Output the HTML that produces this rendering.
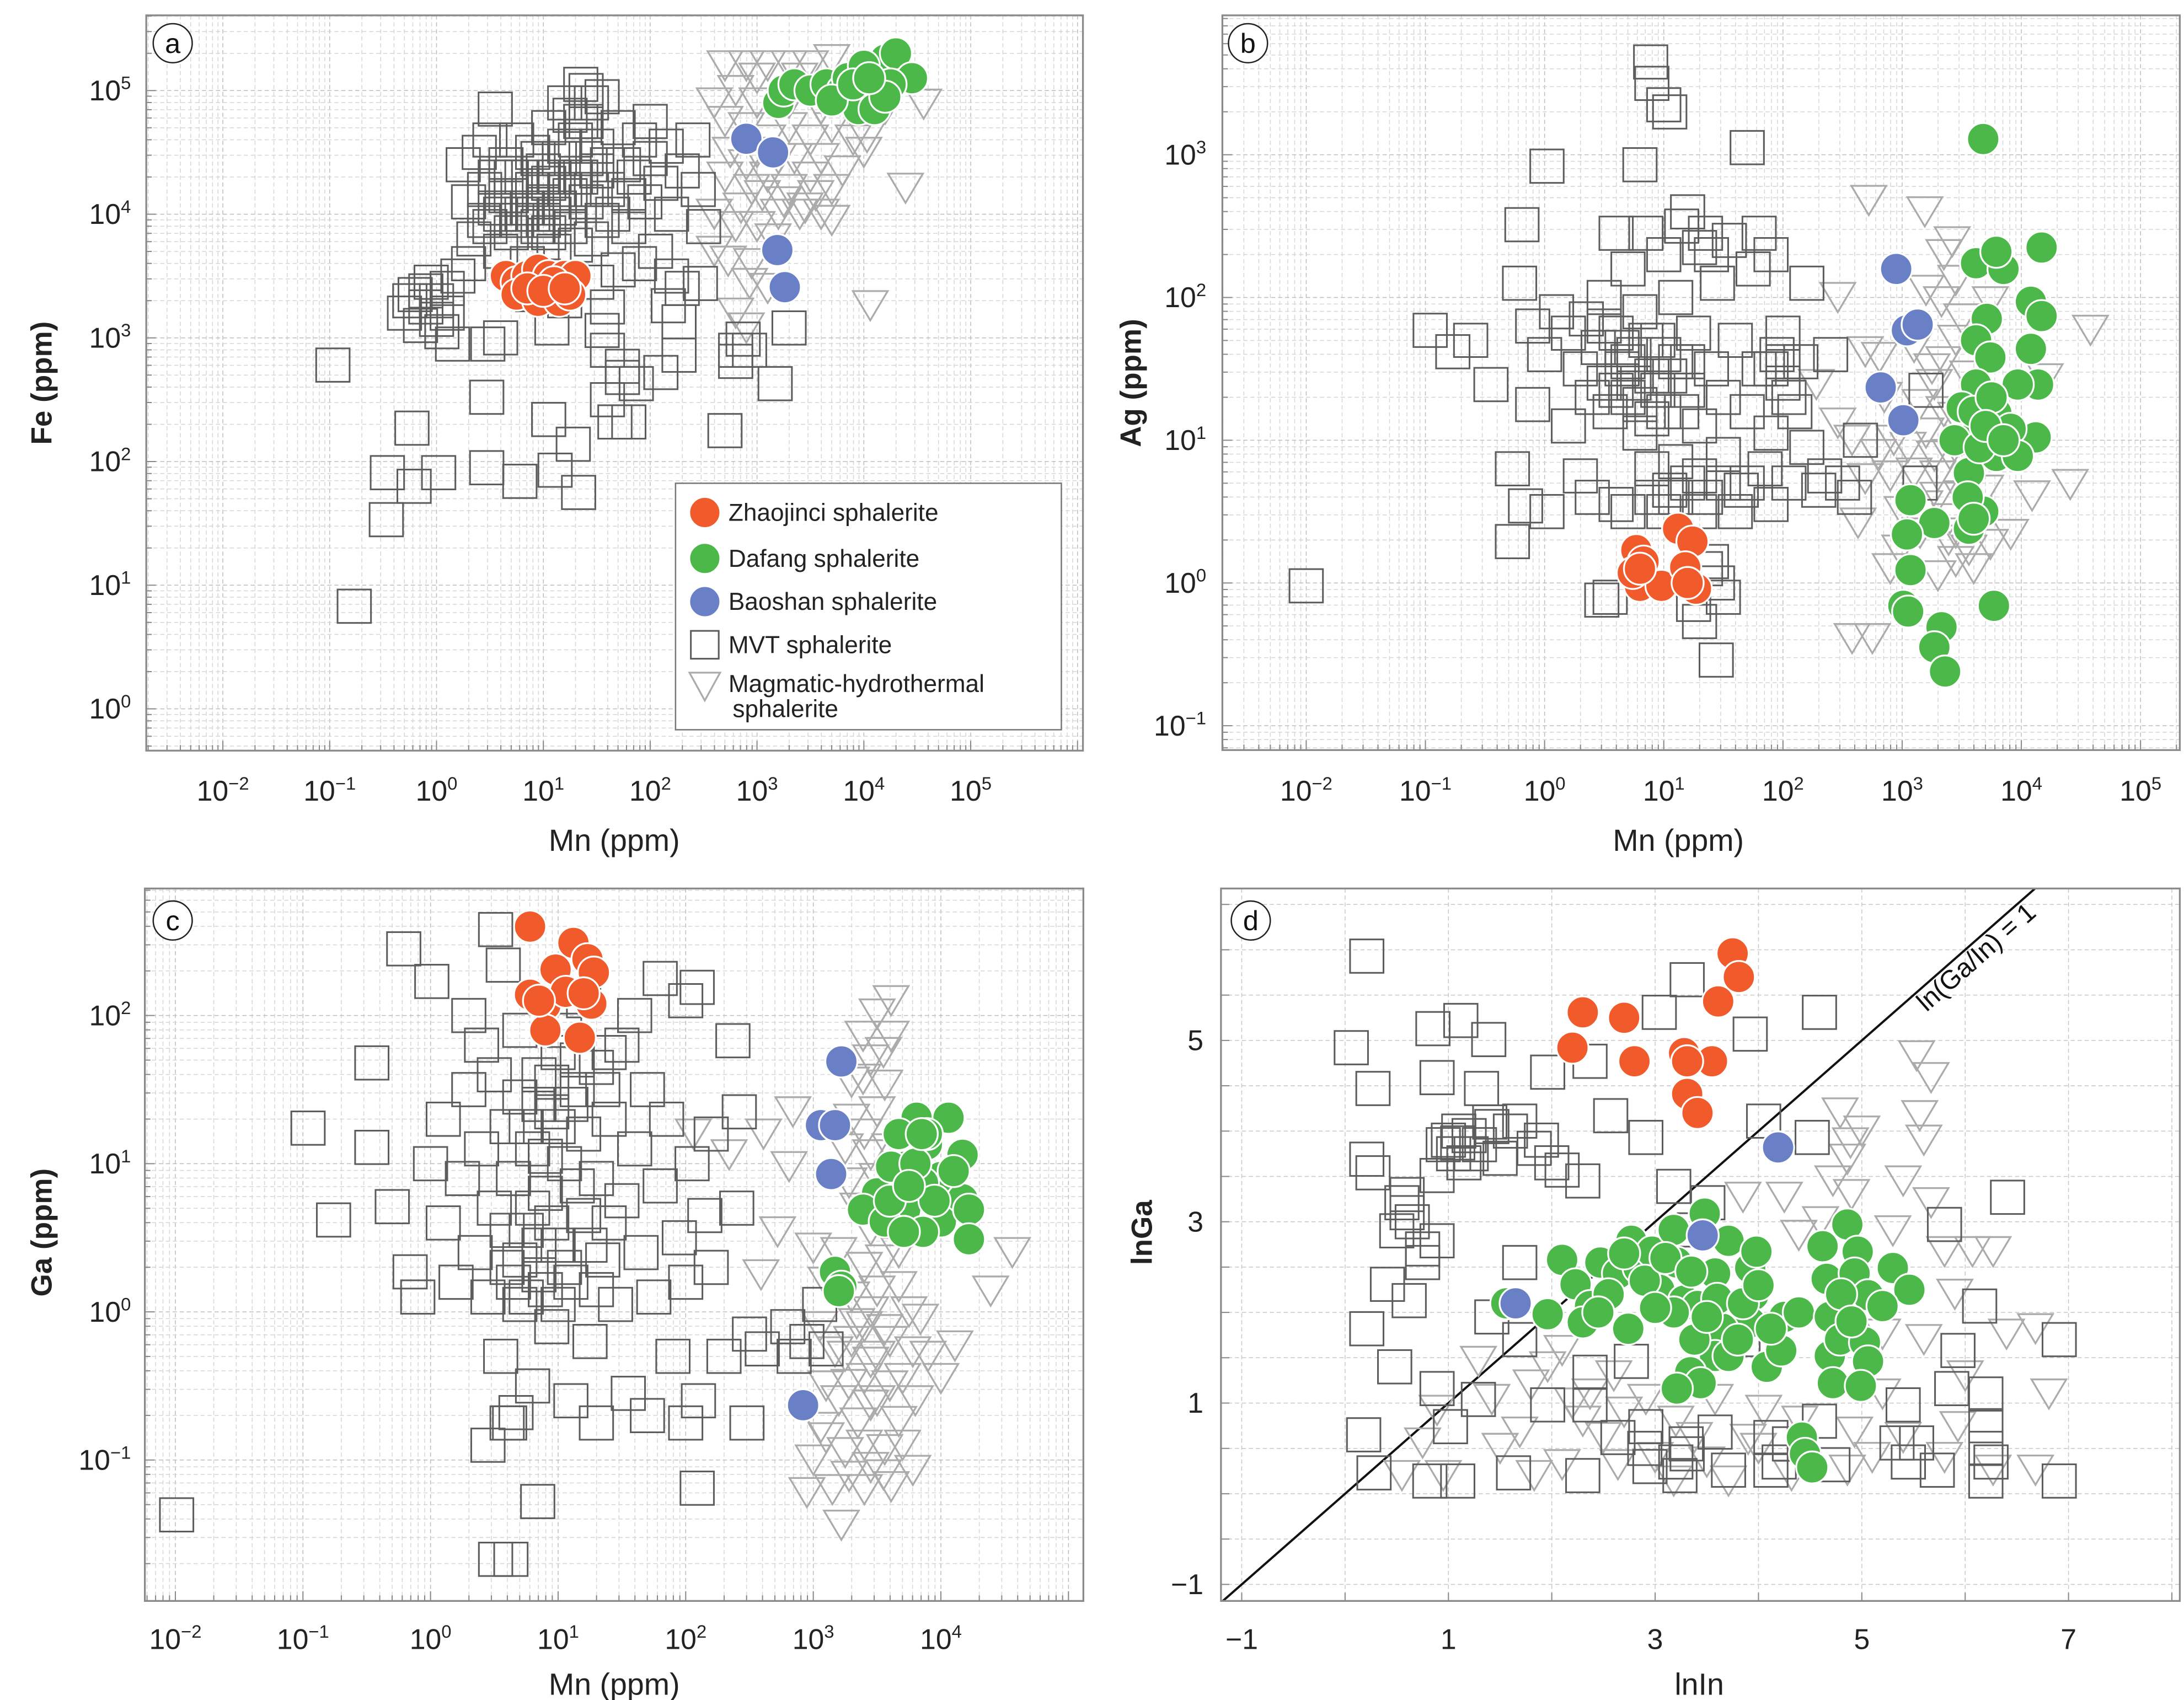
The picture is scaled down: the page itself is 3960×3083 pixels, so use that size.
<!DOCTYPE html>
<html><head><meta charset="utf-8">
<style>
html,body{margin:0;padding:0;background:#fff;}
svg{display:block;font-family:"Liberation Sans",sans-serif;}
</style></head>
<body>
<svg id="fig" xmlns="http://www.w3.org/2000/svg" width="3960" height="3083" viewBox="0 0 1568 1220.7">
<rect x="0" y="0" width="1568" height="1220.7" fill="#fff"/>
</svg>
<script>
// ---- data (log10 values for panels a-c; natural-log values for panel d) ----
const aMag=[[2.7,5.2],[2.9,5.2],[3.1,5.2],[3.3,5.2],[3.5,5.2],[3.7,5.25],[2.8,5.0],[3.0,4.9],[2.7,4.75],[2.9,4.7],[3.1,4.6],[3.3,4.7],[3.5,4.6],[3.7,4.7],[3.9,4.6],[2.7,4.3],[2.9,4.4],[3.1,4.3],[3.3,4.2],[3.5,4.3],[3.7,4.2],[3.45,4.05],[3.2,4.0],[2.85,4.05],[2.6,4.0],[3.6,4.0],[4.39,4.21],[4.56,4.89],[4.03,4.62],[4.06,3.26],[2.6,3.7],[2.73,3.62],[2.93,3.44],[2.9,3.08],[2.8,3.2],[3.0,3.9],[3.15,3.8],[2.95,4.2],[3.6,4.45],[3.35,4.45],[3.8,4.35],[4.0,4.5],[4.2,4.85],[2.6,4.9],[2.75,4.5],[3.0,4.5],[3.2,4.45],[3.4,4.0],[3.55,4.15],[3.25,4.1],[3.05,4.15],[2.8,3.9],[3.3,4.9],[3.6,4.85],[3.0,5.1],[3.4,5.1],[2.95,3.6],[3.1,3.4],[3.7,3.95]];
const aMvt=[[-0.97,2.78],[-0.77,0.83],[-0.23,2.27],[-0.46,1.91],[-0.21,1.8],[0.02,1.91],[-0.47,1.53],[0.47,2.52],[0.47,1.95],[0.78,1.84],[1.05,2.34],[1.11,1.93],[1.28,2.14],[1.33,1.75],[1.6,2.5],[1.74,2.68],[1.67,2.32],[1.8,2.32],[1.87,2.63],[2.27,2.86],[2.27,3.13],[2.47,3.44],[2.17,3.26],[2.7,2.25],[2.8,2.81],[2.8,2.9],[2.93,2.9],[3.17,2.63],[3.3,3.08],[2.87,2.99],[0.48,2.95],[0.15,2.95],[0.6,3.0],[1.08,3.08],[1.55,3.06],[1.6,2.9],[1.74,2.77],[2.1,2.72],
[-0.3,3.2],[-0.2,3.35],[-0.1,3.25],[0,3.3],[0.1,3.2],[-0.15,3.1],[0.05,3.05],[-0.05,3.45],[0.2,3.5],[0.1,3.4],[-0.25,3.3],[0.0,3.15],[-0.1,3.38],
[0.25,4.4],[0.3,4.1],[0.35,3.8],[0.4,4.5],[0.45,4.2],[0.5,3.9],[0.5,4.6],[0.55,4.3],[0.6,4.0],[0.6,3.7],[0.65,4.4],[0.7,4.15],[0.7,3.85],[0.75,4.6],[0.8,4.3],[0.8,4.0],[0.85,3.6],[0.9,4.5],[0.9,4.2],[0.95,3.9],[1.0,4.35],[1.0,4.1],[1.05,4.7],[1.1,4.0],[1.1,3.7],[1.15,4.45],[1.2,4.2],[1.2,4.9],[1.25,3.9],[1.3,4.6],[1.3,4.3],[1.35,5.05],[1.4,4.1],[1.4,4.75],[1.45,3.8],[1.5,4.35],[1.5,4.55],[1.55,4.95],[1.6,4.2],[1.65,4.0],[1.7,4.7],[1.75,4.4],[1.8,3.9],[1.85,4.3],[1.9,4.6],[1.95,4.1],[2.0,4.45],[2.05,3.7],[2.1,4.25],[2.15,4.55],[2.2,4.0],[2.3,4.35],[2.4,4.6],[2.45,4.2],[2.5,3.9],[0.55,4.85],[2.0,4.75],[1.7,3.55],[1.0,3.5],[2.2,3.5],[0.3,3.6],[1.2,3.3],[1.5,3.45],[0.9,3.35],[1.6,3.25],[1.9,3.6],[2.3,3.4],
[0.65,4.15],[0.85,4.05],[1.05,4.25],[1.15,4.05],[1.25,4.15],[0.95,4.45],[1.35,4.3],[0.75,3.95],[1.05,3.85],[1.45,4.2],[0.55,4.05],[0.9,4.0],[1.2,4.55],[1.4,4.45],[1.6,4.4],[1.8,4.15],[0.45,3.95],[1.3,3.75],[1.55,3.95],[1.1,4.3],[0.7,4.3],[1.0,3.95],[1.4,5.0],[1.45,4.9],[1.35,4.75],[1.25,4.8]];
const aDaf=[[3.2,4.9],[3.25,5.0],[3.35,5.05],[3.5,5.0],[3.65,5.05],[3.8,5.0],[3.9,4.95],[4.0,5.05],[4.05,4.9],[4.1,5.0],[4.15,5.15],[4.2,5.25],[4.3,5.3],[4.45,5.1],[3.95,4.85],[4.1,4.85],[3.85,5.1],[4.25,5.05],[4.0,5.2],[3.7,4.92],[3.9,5.05],[4.2,4.95],[4.05,5.1]];
const aBao=[[2.9,4.61],[3.15,4.5],[3.19,3.71],[3.26,3.41]];
const aZha=[[0.65,3.5],[0.75,3.45],[0.85,3.5],[0.95,3.55],[1.05,3.5],[1.2,3.5],[1.3,3.5],[0.75,3.35],[0.95,3.3],[1.15,3.3],[1.25,3.35],[0.85,3.4],[1.1,3.45],[1.0,3.38],[1.2,3.4]];

const bMag=[[2.72,2.68],[3.19,2.6],[3.42,2.39],[2.46,2.0],[2.69,1.62],[2.81,1.58],[4.58,1.77],[4.41,0.69],[4.09,0.61],[2.58,-0.39],[2.75,-0.39],[2.63,0.42],[2.69,0.73],[3.27,0.89],[3.45,1.16],[3.27,1.39],[3.45,1.7],[3.33,1.97],[3.45,2.12],[3.5,0.61],[3.56,0.23],[3.74,0.27],[2.93,1.0],[3.1,0.77],[2.58,1.0],[3.91,0.34],[3.39,0.3],[3.19,0.54],[2.98,0.23],[4.2,1.43],[3.74,1.97],[2.28,1.39],[2.46,1.12],[3.3,0.6],[3.4,0.9],[3.6,0.5],[3.0,0.5],[3.35,1.2],
[3.2,1.05],[3.3,0.75],[3.4,0.45],[3.5,1.0],[3.55,0.8],[3.6,1.2],[3.25,1.5],[3.15,1.25],[3.05,0.95],[2.9,0.75],[3.45,0.35],[3.65,0.95],[3.35,1.55],[3.55,1.45],[3.1,1.65],[3.2,2.05],[3.35,2.3],[3.5,1.85],[2.85,1.3],[2.8,0.9],[3.7,0.65],[3.15,0.35],[3.45,0.15],[3.3,0.05],[3.6,0.1],[2.9,0.1]];
const bMvt=[[-2,-0.02],[0.02,2.92],[0.8,2.93],[0.89,3.65],[0.9,3.5],[1.0,3.35],[1.05,3.3],[1.7,3.05],[-0.19,2.51],[-0.21,2.1],[-0.96,1.77],[-0.77,1.62],[-0.62,1.7],[-0.45,1.39],[-0.27,0.8],[-0.27,0.29],[-0.16,0.54],[0.02,0.5],[0.48,-0.12],[1.44,-0.54],[1.3,-0.27],
[-0.1,1.8],[0,1.6],[0.1,1.9],[0.2,1.75],[0.3,1.5],[0.35,1.85],[0.4,1.3],[0.45,1.65],[0.5,2.0],[0.5,1.4],[0.55,1.2],[0.6,1.75],[0.65,1.5],[0.7,2.2],[0.7,1.3],[0.75,1.6],[0.8,1.9],[0.8,1.05],[0.85,2.45],[0.9,1.45],[0.9,0.8],[0.95,1.7],[1.0,2.3],[1.0,1.2],[1.05,0.65],[1.1,1.55],[1.1,2.0],[1.15,2.5],[1.2,1.35],[1.2,0.7],[1.25,1.75],[1.3,2.35],[1.3,1.1],[1.35,0.6],[1.4,1.5],[1.45,2.1],[1.5,0.9],[1.5,1.3],[1.55,2.4],[1.6,1.7],[1.65,0.65],[1.7,1.2],[1.75,2.2],[1.8,1.5],[1.85,0.8],[1.9,1.05],[1.95,1.6],[2.0,1.4],[2.0,1.75],[2.05,0.7],[2.1,1.2],[2.15,1.55],[2.2,0.95],[2.2,2.1],[2.3,0.65],[2.35,0.75],[2.5,0.7],[2.6,0.6],[2.65,1.0],[0.2,1.1],[0.4,0.6],[0.6,0.55],[-0.1,1.25],[0.3,0.75],[1.0,0.5],[1.6,0.5],[2.4,1.6],[1.3,0.5],[0.7,0.5],[1.9,0.55],[0.6,2.45],[1.9,2.3],[1.8,2.45],[1.2,2.6],[1.35,0.1],[1.45,0.0],[1.5,-0.1],[1.4,0.15],[0.55,-0.1],[1.25,-0.15],[3.2,1.35],[3.15,0.7],
[0.6,1.35],[0.7,1.55],[0.8,1.25],[0.85,1.7],[0.95,1.35],[1.05,1.45],[1.15,1.2],[1.0,1.6],[0.75,1.4],[0.65,1.65],[1.2,1.55],[0.9,1.15],[1.1,0.85],[1.3,0.75],[1.5,0.7],[1.7,0.7],[1.1,0.6],[0.9,0.6],[2.0,1.55],[2.05,1.3],[1.9,1.5],[0.5,1.8],[1.35,2.45],[1.4,2.3]];
const bDaf=[[3.68,3.11],[4.17,2.35],[3.62,2.24],[3.85,2.2],[3.79,2.32],[4.08,1.97],[3.71,1.85],[4.17,1.87],[4.08,1.64],[3.62,1.7],[3.74,1.58],[3.62,1.39],[3.79,1.19],[4.14,1.39],[4.12,1.02],[3.62,1.04],[3.79,0.89],[3.56,0.77],[3.68,0.5],[3.56,0.38],[3.07,0.58],[3.27,0.42],[3.04,0.34],[3.07,0.09],[3.01,-0.16],[3.33,-0.31],[3.27,-0.45],[3.36,-0.62],[3.77,-0.16],[3.97,1.39],[3.91,1.08],[3.44,1.0],[3.97,0.89],[3.5,1.23],[3.6,1.2],[3.75,1.3],[3.65,0.95],[3.7,1.1],[3.55,0.6],[3.85,1.0],[3.6,0.45],[3.05,-0.2]];
const bBao=[[2.95,2.2],[3.04,1.77],[3.13,1.81],[2.82,1.37],[3.01,1.14]];
const bZha=[[0.77,0.23],[0.83,0.15],[1.12,0.38],[1.24,0.29],[0.8,-0.02],[0.98,-0.02],[1.27,-0.04],[1.18,0.11],[0.74,0.07],[0.8,0.1],[1.2,0.0]];

const cMag=[[3.61,2.1],[3.5,2.01],[3.39,1.86],[3.61,1.86],[2.84,1.35],[2.61,1.2],[2.34,1.06],[2.06,1.2],[2.81,0.98],[2.72,0.54],[2.59,0.25],[3.0,0.43],[3.28,0.87],[3.45,1.06],[3.56,1.53],[3.39,1.57],[4.56,0.4],[4.39,0.14],[4.0,-0.45],[4.11,-0.23],[3.84,-0.05],[3.67,0.17],[3.56,-0.12],[3.45,-0.34],[3.28,-0.49],[3.06,-0.78],[3.0,-1.0],[3.28,-1.11],[3.56,-0.93],[3.78,-1.07],[3.67,-0.74],[3.45,-0.63],[3.22,-1.44],[2.95,-1.22],[3.61,-1.18],[3.5,0.14],[3.67,0.4],[3.34,-0.08],[3.17,-0.27],[3.78,-0.27],[3.4,0.3],[3.3,1.3],[3.55,0.7],[3.1,-0.5],[3.4,-0.9],
[3.3,-0.2],[3.4,-0.45],[3.5,-0.3],[3.6,-0.5],[3.2,-0.6],[3.35,-0.75],[3.5,-0.6],[3.25,-0.95],[3.45,-1.05],[3.1,-0.85],[3.15,-1.2],[3.4,-1.2],[3.55,-1.1],[3.7,-0.9],[3.6,-0.2],[3.45,0.0],[3.3,0.1],[3.55,0.35],[3.45,0.55],[3.35,0.7],[3.5,0.9],[3.6,1.1],[3.4,1.2],[3.5,1.35],[3.45,1.7],[3.55,1.75],[3.3,1.55],[3.25,1.1],[3.2,0.4],[3.1,0.2],[3.05,-0.1],[3.7,-0.45],[3.8,-0.6],[3.9,-0.3],[3.75,0.0],[3.25,-0.3],[3.4,-0.1]];
const cMvt=[[-1.99,-1.37],[-0.96,1.24],[-0.76,0.62],[0.51,-1.67],[0.63,-1.67],[0.84,-1.28],[2.09,-1.19],[2.48,-0.75],[0.45,-0.9],[0.62,-0.75],[0.67,-0.68],[-0.21,2.45],[0.51,2.58],[0.57,2.34],[0.01,2.23],[2.09,2.19],[2.37,1.83],[2.42,1.35],[-0.46,1.68],[-0.46,1.11],[-0.3,0.71],[-0.16,0.27],[-0.1,0.1],
[0.0,1.0],[0.1,0.6],[0.1,1.3],[0.2,0.2],[0.25,0.9],[0.3,1.5],[0.35,0.4],[0.4,1.1],[0.45,0.1],[0.5,1.6],[0.5,0.7],[0.55,-0.3],[0.6,1.25],[0.6,0.3],[0.65,0.9],[0.7,1.45],[0.7,0.05],[0.75,0.55],[0.8,1.1],[0.8,-0.5],[0.85,1.6],[0.85,0.25],[0.9,0.8],[0.95,1.35],[0.95,-0.1],[1.0,0.45],[1.0,1.75],[1.05,1.0],[1.1,0.2],[1.1,-0.6],[1.15,1.5],[1.2,0.65],[1.2,1.2],[1.25,-0.2],[1.3,0.9],[1.3,1.65],[1.35,0.35],[1.4,1.3],[1.45,0.05],[1.5,0.75],[1.5,1.8],[1.55,-0.55],[1.6,1.1],[1.65,0.4],[1.7,1.5],[1.75,0.1],[1.8,0.85],[1.85,1.3],[1.9,-0.3],[1.95,0.5],[2.0,2.1],[2.0,0.2],[2.05,1.0],[2.1,-0.6],[2.15,0.65],[2.2,1.2],[2.3,-0.3],[2.4,0.7],[2.5,-0.15],[2.6,-0.25],[2.8,-0.1],[2.85,-0.3],[2.95,-0.2],[3.05,0.05],[3.1,-0.25],[0.7,1.9],[1.2,2.1],[1.6,2.0],[0.4,1.8],[1.8,2.25],[0.3,2.0],[2.2,0.3],[1.7,-0.7],[0.6,-0.75],[1.3,-0.75],[2.0,-0.75],
[0.65,0.2],[0.75,0.1],[0.85,0.45],[0.7,0.35],[0.9,0.15],[1.0,0.05],[0.8,0.7],[0.95,0.6],[1.05,0.3],[1.15,0.85],[0.75,1.25],[0.9,1.05],[1.0,1.25],[1.1,1.4],[0.85,1.4],[1.25,0.45],[1.4,0.6],[1.3,0.15],[0.6,0.55],[1.15,1.7],[1.35,1.5],[0.95,1.55],[1.05,1.9],[1.4,1.75]];
const cDaf=[[3.81,1.31],[4.06,1.31],[3.67,1.2],[3.89,1.13],[4.17,1.06],[3.72,0.98],[4.0,0.91],[3.5,0.8],[3.86,0.87],[4.17,0.76],[3.39,0.69],[3.72,0.69],[4.0,0.61],[4.22,0.69],[3.56,0.61],[3.86,0.54],[3.71,0.54],[4.22,0.49],[3.17,0.27],[3.22,0.17],[3.2,0.14],[3.61,0.98],[3.89,1.2],[3.8,1.0],[3.95,0.75],[3.6,0.75],[3.75,0.85],[3.85,1.2],[4.1,0.95]];
const cBao=[[3.22,1.69],[3.06,1.26],[3.17,1.26],[3.14,0.93],[2.92,-0.63]];
const cZha=[[0.78,2.6],[1.12,2.49],[1.23,2.38],[0.98,2.31],[1.28,2.29],[0.78,2.14],[0.9,2.07],[1.26,2.08],[0.9,1.9],[1.17,1.85],[1.06,2.16],[0.85,2.1],[1.2,2.15]];

const dMag=[[5.53,4.83],[5.67,4.59],[5.56,4.17],[4.79,4.2],[4.89,3.87],[4.86,3.69],[4.72,3.45],[3.85,3.27],[4.25,3.27],[5.4,3.45],[5.67,3.21],[4.39,2.85],[5.8,2.67],[6.07,2.67],[6.27,2.67],[6.68,1.82],[6.81,1.1],[6.68,0.26],[6.27,0.26],[5.93,0.74],[5.2,1.1],[4.93,0.68],[4.86,0.26],[4.32,0.2],[3.71,0.14],[3.18,0.14],[2.64,0.32],[2.1,0.32],[1.83,0.2],[0.95,0.2],[0.55,0.2],[0.75,0.56],[0.89,0.92],[1.42,1.04],[1.96,1.4],[2.37,1.1],[2.91,1.04],[3.58,1.04],[4.05,0.92],[1.69,0.68],[2.5,0.62],[3.38,0.62],[5.4,0.62],[5.6,1.7],[6.4,1.76],[5.2,1.76],[2.1,1.58],[1.29,1.46],[5.0,4.0],[4.6,3.0],
[2.3,0.8],[2.7,0.9],[3.0,0.4],[3.5,0.35],[4.0,0.5],[2.2,1.0],[1.8,1.2],[2.6,1.3],[3.2,0.8],[3.9,0.6],[4.4,0.8],[1.5,0.5],[5.1,0.4],[5.8,0.4],[6.0,1.3],[5.9,2.2],[5.3,2.9],[4.9,3.3],[5.6,3.9]];
const dMvt=[[0.21,5.93],[0.06,4.92],[0.27,4.47],[1.12,5.22],[0.85,5.13],[1.39,5.01],[0.89,4.59],[1.32,4.47],[1.96,4.65],[2.37,4.77],[3.04,5.31],[3.31,5.67],[3.92,5.07],[4.59,5.31],[0.21,3.69],[0.27,3.54],[0.55,3.21],[0.89,3.51],[1.09,3.87],[1.22,3.75],[1.42,4.05],[1.69,4.11],[1.83,3.81],[2.1,3.57],[2.3,3.45],[2.57,4.17],[2.91,3.93],[3.18,3.39],[3.38,2.91],[4.05,4.11],[4.52,3.93],[0.89,2.79],[0.75,2.55],[0.41,2.31],[0.62,2.13],[0.21,1.82],[0.48,1.4],[0.89,1.16],[1.02,0.74],[0.18,0.65],[0.28,0.23],[0.82,0.14],[1.09,0.14],[1.63,0.23],[1.69,2.55],[1.42,1.95],[1.69,1.7],[1.96,0.98],[2.37,0.98],[2.3,0.2],[2.91,0.74],[3.24,0.2],[3.71,0.26],[4.12,0.62],[4.12,0.26],[4.59,0.8],[5.4,0.98],[5.53,0.56],[5.73,0.26],[5.87,1.16],[6.14,2.07],[6.2,1.1],[6.2,0.14],[6.41,3.27],[6.91,1.7],[6.91,0.14],[5.8,2.97],[5.93,1.58],[6.2,0.5],[5.34,0.56],[4.72,0.32],[3.58,0.68],[2.64,0.62],[1.29,1.04],[3.31,0.44],[2.77,1.46],[2.37,1.34],[3.85,1.7],[3.51,3.21],[1.0,3.9],[1.1,4.0],[0.6,3.3],[1.5,3.7],
[1.05,3.75],[1.2,3.95],[1.3,3.85],[1.4,4.1],[0.95,3.85],[1.15,3.65],[1.6,4.0],[0.6,3.1],[0.65,3.0],[0.5,2.9],[0.75,2.7],[1.9,3.9],[2.0,3.65],[3.2,0.35],[3.3,0.55],[4.2,0.35],[4.3,0.55],[5.45,0.35],[6.2,0.75],[6.25,0.35],[2.9,0.5],[2.95,0.3]];
const dDaf=[[1.56,2.1],[1.96,1.98],[2.1,2.58],[2.23,2.31],[2.37,2.07],[2.3,1.89],[2.47,2.55],[2.64,2.43],[2.77,2.79],[2.74,1.82],[2.84,2.49],[2.97,2.67],[3.04,2.25],[3.18,2.91],[3.21,2.55],[3.28,2.13],[3.41,2.07],[3.48,3.09],[3.58,2.43],[3.71,2.79],[3.92,2.49],[3.98,2.67],[3.95,2.19],[3.92,1.89],[3.65,1.82],[3.58,1.52],[3.71,1.52],[3.38,1.7],[3.34,1.34],[3.44,1.22],[3.21,1.16],[4.08,1.4],[4.22,1.58],[4.25,1.95],[4.39,2.0],[4.66,2.37],[4.62,2.73],[4.86,2.97],[4.96,2.67],[4.93,2.43],[5.06,2.19],[5.3,2.49],[5.46,2.25],[5.2,2.07],[4.69,1.95],[4.69,1.52],[4.79,1.7],[5.03,1.67],[5.06,1.46],[4.72,1.22],[4.99,1.19],[4.42,0.62],[4.45,0.44],[4.52,0.29],[4.12,1.82],[3.18,2.0],
[2.55,2.2],[2.9,2.35],[3.1,2.6],[3.35,2.45],[2.7,2.65],[3.0,2.05],[2.45,2.0],[3.6,2.15],[3.85,2.1],[4.0,2.3],[4.8,2.2],[4.9,1.9],[3.5,1.95],[3.8,1.7]];
const dBao=[[4.19,3.82],[3.46,2.85],[1.65,2.1]];
const dZha=[[3.75,5.96],[3.81,5.7],[3.61,5.43],[2.3,5.31],[2.7,5.25],[2.2,4.92],[2.8,4.77],[3.28,4.86],[3.55,4.77],[3.31,4.41],[3.41,4.2],[3.31,4.77]];

const aXTicks=[-2,-1,0,1,2,3,4,5], aYTicks=[0,1,2,3,4,5];
const bXTicks=[-2,-1,0,1,2,3,4,5], bYTicks=[-1,0,1,2,3];
const cXTicks=[-2,-1,0,1,2,3,4], cYTicks=[-1,0,1,2];
const dXTicks=[-1,1,3,5,7], dYTicks=[-1,1,3,5];
const legendLabels=["Zhaojinci sphalerite","Dafang sphalerite","Baoshan sphalerite","MVT sphalerite","Magmatic-hydrothermal"];

// ---- drawing ----
const NS='http://www.w3.org/2000/svg';
const svg=document.getElementById('fig');
function mk(tag,attrs,parent){const e=document.createElementNS(NS,tag);for(const k in attrs)e.setAttribute(k,attrs[k]);(parent||svg).appendChild(e);return e;}
const COL={zha:'#F15A2B',daf:'#4CB849',bao:'#6A80C6',mvt:'#5C5C5C',mag:'#ABABAB'};

const panels=[
 {id:'a',L:105,R:777.5,T:11,B:539,xm:v=>160+(v+2)*76.7,ym:v=>509-v*88.8,xr:[-2.72,6.05],yr:[-0.34,5.61],log:true,xt:aXTicks,yt:aYTicks,lab:[124,31],xt_y:575,ylx:94,
  xtitle:'Mn (ppm)',ytitle:'Fe (ppm)',xtp:[441,604],ytp:[30,275],s:{mag:aMag,mvt:aMvt,daf:aDaf,bao:aBao,zha:aZha}},
 {id:'b',L:877.6,R:1565,T:11,B:538.6,xm:v=>937.8+(v+2)*85.57,ym:v=>418.6-v*102.5,xr:[-2.71,6.3],yr:[-1.17,3.98],log:true,xt:bXTicks,yt:bYTicks,lab:[896,31],xt_y:575,ylx:866,
  xtitle:'Mn (ppm)',ytitle:'Ag (ppm)',xtp:[1205,604],ytp:[812,275],s:{mag:bMag,mvt:bMvt,daf:bDaf,bao:bBao,zha:bZha}},
 {id:'c',L:104,R:777.8,T:638,B:1149.6,xm:v=>125.9+(v+2)*91.6,ym:v=>942-v*106.4,xr:[-2.24,5.12],yr:[-1.95,2.86],log:true,xt:cXTicks,yt:cYTicks,lab:[124,661],xt_y:1184,ylx:94,
  xtitle:'Mn (ppm)',ytitle:'Ga (ppm)',xtp:[441,1210],ytp:[30,885],s:{mag:cMag,mvt:cMvt,daf:cDaf,bao:cBao,zha:cZha}},
 {id:'d',L:876.6,R:1565,T:638,B:1149.6,xm:v=>965.7+v*74.2,ym:v=>1072.6-v*65.1,xr:[-1.2,8.08],yr:[-1.18,6.68],log:false,xt:dXTicks,yt:dYTicks,lab:[898,661],xt_y:1184,ylx:864,
  xtitle:'lnIn',ytitle:'lnGa',xtp:[1220,1210],ytp:[820,885],s:{mag:dMag,mvt:dMvt,daf:dDaf,bao:dBao,zha:dZha}}
];

function tri(g,x,y){const w=12.5,h=21;const p=mk('polygon',{points:`${x-w},${y-h/2} ${x+w},${y-h/2} ${x},${y+h/2}`,fill:'none',stroke:COL.mag,'stroke-width':1.3},g);
 
 }
function sq(g,x,y){const r=mk('rect',{x:x-12,y:y-12,width:24,height:24,fill:'none',stroke:COL.mvt,'stroke-width':1.2},g);
 
 }
function circ(g,x,y,c,name){const e=mk('circle',{cx:x,cy:y,r:11.5,fill:c,stroke:'#fff','stroke-width':1.3},g);
 
 }

panels.forEach(P=>{
 const g=mk('g',{});
 
 
 const clipId='clip'+P.id;
 const cp=mk('clipPath',{id:clipId},g);mk('rect',{x:P.L,y:P.T,width:P.R-P.L,height:P.B-P.T},cp);
 const grid=mk('g',{stroke:'#c8c8c8','stroke-width':0.6,'stroke-dasharray':'3,2'},g);
 
 
 const tk=mk('g',{stroke:'#888','stroke-width':0.8},g);
 if(P.log){
  for(let d=Math.floor(P.xr[0]);d<=Math.ceil(P.xr[1]);d++)for(let m=1;m<10;m++){const v=d+Math.log10(m);if(v<P.xr[0]||v>P.xr[1])continue;const x=P.xm(v);
   mk('line',{x1:x,x2:x,y1:P.T,y2:P.B,stroke:m==1?'#bdbdbd':'#d6d6d6'},grid);mk('line',{x1:x,x2:x,y1:P.B,y2:P.B-(m==1?7:4)},tk);}
  for(let d=Math.floor(P.yr[0]);d<=Math.ceil(P.yr[1]);d++)for(let m=1;m<10;m++){const v=d+Math.log10(m);if(v<P.yr[0]||v>P.yr[1])continue;const y=P.ym(v);
   mk('line',{y1:y,y2:y,x1:P.L,x2:P.R,stroke:m==1?'#bdbdbd':'#d6d6d6'},grid);mk('line',{y1:y,y2:y,x1:P.L,x2:P.L+(m==1?7:4)},tk);}
 } else {
  for(let v=-1;v<=8;v++){const x=P.xm(v);mk('line',{x1:x,x2:x,y1:P.T,y2:P.B},grid);mk('line',{x1:x,x2:x,y1:P.B,y2:P.B-6},tk);}
  for(let v=-1;v<=6.5;v+=0.5){const y=P.ym(v);mk('line',{y1:y,y2:y,x1:P.L,x2:P.R},grid);mk('line',{y1:y,y2:y,x1:P.L,x2:P.L+6},tk);}
 }
 const marks=mk('g',{'clip-path':`url(#${clipId})`},g);
 
 
 if(!P.log){
  const ln=mk('line',{x1:P.xm(-1.2),y1:P.ym(-1.2),x2:P.xm(6.68),y2:P.ym(6.68),stroke:'#111','stroke-width':1.6},marks);
  
  
  const lt=mk('text',{x:1423,y:692,'font-size':19,fill:'#111',transform:'rotate(-41.3 1423 692)','text-anchor':'middle'},g);
  lt.textContent='ln(Ga/In) = 1';
  
  
 }
 P.s.mag.forEach(p=>tri(marks,P.xm(p[0]),P.ym(p[1])));
 P.s.mvt.forEach(p=>sq(marks,P.xm(p[0]),P.ym(p[1])));
 P.s.daf.forEach(p=>circ(marks,P.xm(p[0]),P.ym(p[1]),COL.daf,'dafang-point'));
 P.s.bao.forEach(p=>circ(marks,P.xm(p[0]),P.ym(p[1]),COL.bao,'baoshan-point'));
 P.s.zha.forEach(p=>circ(marks,P.xm(p[0]),P.ym(p[1]),COL.zha,'zhaojinci-point'));
 const fr=mk('rect',{x:P.L,y:P.T,width:P.R-P.L,height:P.B-P.T,fill:'none',stroke:'#8a8a8a','stroke-width':1.3},g);
 
 
 P.xt.forEach(v=>{const t=mk('text',{x:P.xm(v),y:P.xt_y,'font-size':20.5,'text-anchor':'middle',fill:'#222'},g);
  
  
  if(P.log){t.textContent='10';const s=mk('tspan',{dy:-8,'font-size':13},t);s.textContent=(v<0?'\u2212'+(-v):''+v);} else t.textContent=(v<0?'\u2212'+(-v):''+v);});
 P.yt.forEach(v=>{const t=mk('text',{x:P.ylx,y:P.ym(v)+7,'font-size':20.5,'text-anchor':'end',fill:'#222'},g);
  
  
  if(P.log){t.textContent='10';const s=mk('tspan',{dy:-8,'font-size':13},t);s.textContent=(v<0?'\u2212'+(-v):''+v);} else t.textContent=(v<0?'\u2212'+(-v):''+v);});
 const xt=mk('text',{x:P.xtp[0],y:P.xtp[1]+7,'font-size':22,'text-anchor':'middle',fill:'#222'},g);
 xt.textContent=P.xtitle;
 
 
 const yt=mk('text',{x:P.ytp[0],y:P.ytp[1],'font-size':21,'font-weight':'bold','text-anchor':'middle',fill:'#222',transform:`rotate(-90 ${P.ytp[0]} ${P.ytp[1]})`,dy:7},g);
 yt.textContent=P.ytitle;
 
 
 const lc=mk('circle',{cx:P.lab[0],cy:P.lab[1],r:14,fill:'#fff',stroke:'#222','stroke-width':1},g);
 
 
 const lt=mk('text',{x:P.lab[0],y:P.lab[1]+7,'font-size':20,'text-anchor':'middle',fill:'#111'},g);
 lt.textContent=P.id;
 
 
});

const lg=mk('g',{});


mk('rect',{x:485,y:347,width:277,height:177,fill:'#fff',stroke:'#777','stroke-width':1},lg);
const ly=[368,401,432,463,491];
const lcol=[COL.zha,COL.daf,COL.bao];
legendLabels.forEach((lab,i)=>{
 const y=ly[i];
 if(i<3){const c=mk('circle',{cx:506,cy:y,r:11,fill:lcol[i],stroke:'#fff','stroke-width':1},lg);
  
  }
 else if(i==3){const r=mk('rect',{x:496,y:y-10,width:20,height:20,fill:'none',stroke:COL.mvt,'stroke-width':1.2},lg);
  
  }
 else {const p=mk('polygon',{points:`${495},${y-8} ${517},${y-8} ${506},${y+12}`,fill:'none',stroke:COL.mag,'stroke-width':1.3},lg);
  
  }
 const t=mk('text',{x:523,y:y+6,'font-size':17.5,fill:'#222'},lg);
 t.textContent=lab;
 
 
});
const t2=mk('text',{x:526,y:515,'font-size':17.5,fill:'#222'},lg);
t2.textContent='sphalerite';


</script>
</body></html>
